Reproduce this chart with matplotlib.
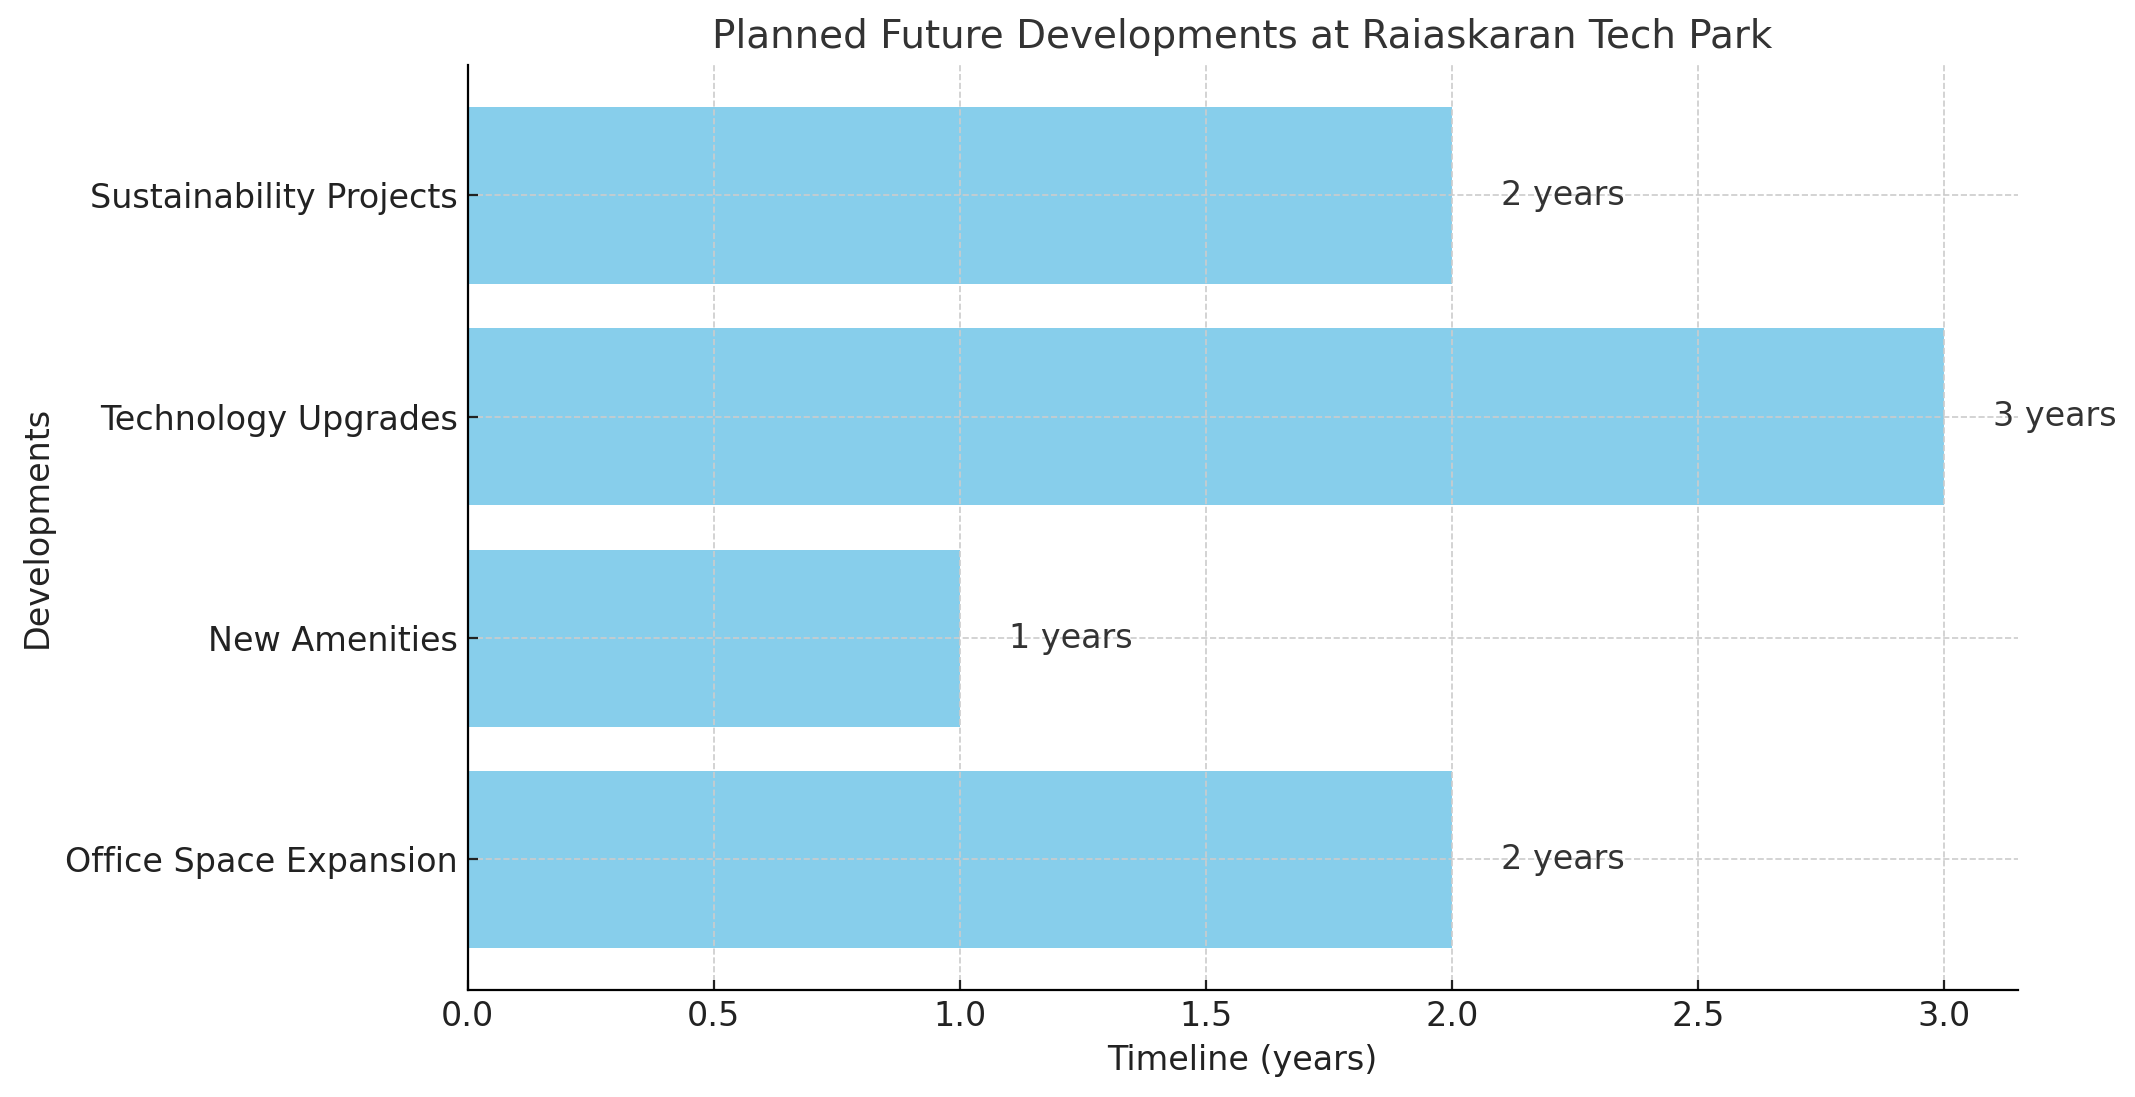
import matplotlib
matplotlib.use('Agg')
import matplotlib.pyplot as plt

# data
developments = ['Office Space Expansion', 'New Amenities', 'Technology Upgrades', 'Sustainability Projects']
timeline = [2, 1, 3, 2]

fig, ax = plt.subplots(figsize=(10.675, 5.485), dpi=200)
fig.subplots_adjust(left=0.219, right=0.945, top=0.941, bottom=0.0975)

bars = ax.barh(developments, timeline, color='skyblue')
for bar, val in zip(bars, timeline):
    ax.text(bar.get_width() + 0.1, bar.get_y() + bar.get_height() / 2,
            f'{val} years', va='center', fontsize=12, color='#333333')

ax.set_title('Planned Future Developments at Raiaskaran Tech Park', fontsize=14, color='#333333')
ax.set_xlabel('Timeline (years)', fontsize=12, color='#222222')
ax.set_ylabel('Developments', fontsize=12, color='#222222')
ax.tick_params(labelsize=12, direction='in', colors='#222222')
ax.grid(True, linestyle='--', color='#cccccc', linewidth=0.6)
ax.spines['top'].set_visible(False)
ax.spines['right'].set_visible(False)

plt.savefig('out.png', dpi=200)
